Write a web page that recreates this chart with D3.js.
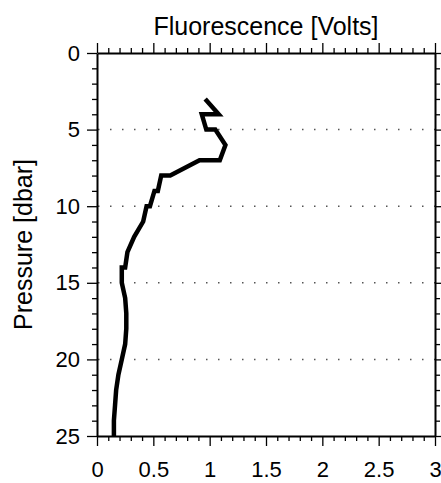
<!DOCTYPE html>
<html>
<head>
<meta charset="utf-8">
<script src="https://cdn.jsdelivr.net/npm/d3@7"></script>
<style>
  body { margin: 0; background: #fff; }
  svg text { font-family: "Liberation Sans", Arial, sans-serif; fill: #000; }
</style>
</head>
<body>
<svg id="chart" width="441" height="483"></svg>
<script>
// profile samples: pressure [dbar] and fluorescence [Volts]
const pressure = [3, 4, 4, 5, 5, 6, 7, 7, 8, 8, 9, 9, 10, 10, 11, 12, 13, 14, 14, 15,
                  16, 17, 18, 19, 20, 21, 22, 23, 24, 25];
const fluorescence = [0.96, 1.08, 0.93, 0.97, 1.05, 1.14, 1.09, 0.91, 0.65, 0.57, 0.54, 0.51, 0.47, 0.44, 0.41, 0.33, 0.27, 0.25, 0.22, 0.22,
                      0.25, 0.26, 0.26, 0.25, 0.22, 0.19, 0.17, 0.16, 0.15, 0.15];

const xTicks = [0, 0.5, 1, 1.5, 2, 2.5, 3];
const yTicks = [0, 5, 10, 15, 20, 25];
const gridLevels = [5, 10, 15, 20];

const margin = { top: 53, right: 6, bottom: 47, left: 97 };
const width = 441 - margin.left - margin.right;
const height = 483 - margin.top - margin.bottom;

const svg = d3.select("#chart");
const g = svg.append("g").attr("transform", `translate(${margin.left},${margin.top})`);

const x = d3.scaleLinear().domain([0, 3]).range([0, width]);
const y = d3.scaleLinear().domain([0, 25]).range([0, height]);

const xMinor = d3.range(0, 3.0001, 0.1).filter(v => Math.abs(v * 2 - Math.round(v * 2)) > 1e-6);
const yMinor = d3.range(0, 26, 1).filter(v => v % 5 !== 0);

// dotted grid lines
g.selectAll(".grid")
  .data(gridLevels)
  .enter().append("line")
  .attr("class", "grid")
  .attr("x1", 0)
  .attr("x2", width)
  .attr("y1", d => y(d))
  .attr("y2", d => y(d))
  .attr("stroke", "#555")
  .attr("stroke-width", 1.5)
  .attr("stroke-dasharray", "1.5,10.5")
  .attr("stroke-dashoffset", 11);

// profile line
const line = d3.line()
  .x((d, i) => x(fluorescence[i]))
  .y(d => y(d));

g.append("path")
  .datum(pressure)
  .attr("d", line)
  .attr("fill", "none")
  .attr("stroke", "#000")
  .attr("stroke-width", 4.5)
  .attr("stroke-linejoin", "miter");

function drawAxis(axisFn, scale, major, minor, transform, labels, pad) {
  const gMinor = g.append("g").attr("transform", transform)
    .call(axisFn(scale).tickValues(minor).tickSize(5).tickSizeOuter(0).tickFormat(""));
  gMinor.select(".domain").remove();
  gMinor.selectAll("line").attr("stroke-width", 1.3);

  const gMajor = g.append("g").attr("transform", transform)
    .call(axisFn(scale).tickValues(major).tickSize(10).tickSizeOuter(0)
      .tickFormat(labels ? d3.format("") : "").tickPadding(pad));
  gMajor.select(".domain").attr("stroke-width", 2);
  gMajor.selectAll("line").attr("stroke-width", 1.3);
  gMajor.selectAll("text").style("font-size", "22px");
  return gMajor;
}

drawAxis(d3.axisBottom, x, xTicks, xMinor, `translate(0,${height})`, true, 15);
drawAxis(d3.axisTop, x, xTicks, xMinor, "translate(0,0)", false, 8);
drawAxis(d3.axisLeft, y, yTicks, yMinor, "translate(0,0)", true, 7);
drawAxis(d3.axisRight, y, yTicks, yMinor, `translate(${width},0)`, false, 8);

// titles
svg.append("text")
  .attr("x", margin.left + width / 2)
  .attr("y", 35)
  .attr("text-anchor", "middle")
  .style("font-size", "25px")
  .text("Fluorescence [Volts]");

svg.append("text")
  .attr("transform", `translate(32,${margin.top + height / 2}) rotate(-90)`)
  .attr("text-anchor", "middle")
  .style("font-size", "25px")
  .text("Pressure [dbar]");
</script>
</body>
</html>
